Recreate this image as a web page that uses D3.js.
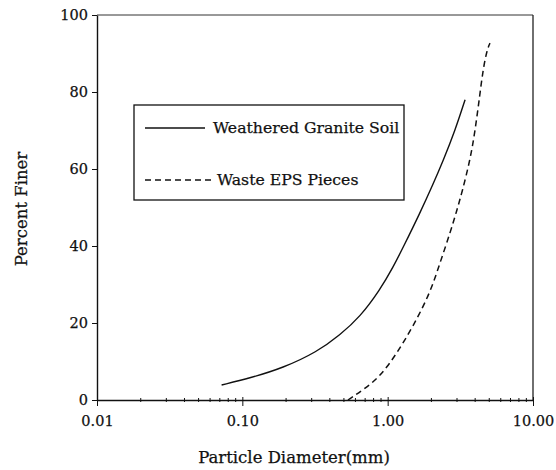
<!DOCTYPE html>
<html><head><meta charset="utf-8">
<script src="https://d3js.org/d3.v7.min.js"></script>
<style>body{margin:0;background:#fff}svg{display:block}text{font-family:"DejaVu Serif",serif;fill:#111;stroke:#111;stroke-width:0.25px}</style>
</head><body><svg id="c" width="556" height="470"></svg>
<script>
const seriesNames = ["Weathered Granite Soil", "Waste EPS Pieces"];
const graniteDiam = [0.072, 0.113, 0.19, 0.327, 0.47, 0.646, 0.885, 1.09, 1.28, 1.67, 2.05, 2.40, 2.91, 3.41];
const granitePct  = [3.9, 5.7, 8.3, 12.5, 16.9, 21.6, 28.6, 34.5, 39.7, 48.6, 56, 62, 70, 78];
const epsDiam = [0.533, 0.676, 0.885, 1.16, 1.49, 1.96, 2.29, 2.69, 3.0, 3.25, 3.69, 4.0, 4.32, 4.53, 4.82, 5.06];
const epsPct  = [0, 2.6, 6, 12.2, 19, 27.8, 35.6, 43.4, 49.4, 54, 62.3, 70, 79.7, 85.7, 90.9, 92.7];
const xTicks = [0.01, 0.1, 1, 10];
const xTickLabels = ["0.01", "0.10", "1.00", "10.00"];
const yTicks = [0, 20, 40, 60, 80, 100];

const svg = d3.select("#c");
const L = 97, R = 533, T = 15, B = 400;
const x = d3.scaleLog().domain([0.01, 10]).range([L, R]);
const y = d3.scaleLinear().domain([0, 100]).range([B, T]);

// frame
svg.append("line").attr("x1", L).attr("x2", R).attr("y1", T).attr("y2", T).attr("stroke", "#333").attr("stroke-width", 1);
svg.append("line").attr("x1", R).attr("x2", R).attr("y1", T).attr("y2", B).attr("stroke", "#222").attr("stroke-width", 1.3);

// y axis
const ya = svg.append("g").attr("transform", `translate(${L},0)`)
  .call(d3.axisLeft(y).tickValues(yTicks).tickSize(5).tickPadding(4).tickSizeOuter(0));
ya.select(".domain").attr("stroke", "#111").attr("stroke-width", 1.4);
ya.selectAll(".tick line").attr("stroke", "#111");
ya.selectAll("text").style("font-size", "14.5px").attr("font-family", "DejaVu Serif");

// x axis
const minor = [];
for (let d = 0.01; d < 10; d *= 10) for (let k = 2; k <= 9; k++) minor.push(d * k);
const xa = svg.append("g").attr("transform", `translate(0,${B})`)
  .call(d3.axisBottom(x).tickValues(xTicks).tickFormat((d, i) => xTickLabels[i]).tickSize(6).tickPadding(10).tickSizeOuter(0));
xa.select(".domain").attr("stroke", "#111").attr("stroke-width", 1.4);
xa.selectAll(".tick line").attr("stroke", "#111").attr("y1", -3);
xa.selectAll("text").style("font-size", "14.5px").attr("font-family", "DejaVu Serif");
svg.append("g").selectAll("line").data(minor).join("line")
  .attr("x1", d => x(d)).attr("x2", d => x(d)).attr("y1", B - 2).attr("y2", B + 2)
  .attr("stroke", "#111").attr("stroke-width", 1);

// curves
const line = d3.line().x(d => x(d[0])).y(d => y(d[1])).curve(d3.curveBasis);
svg.append("path").datum(d3.zip(graniteDiam, granitePct)).attr("d", line)
  .attr("fill", "none").attr("stroke", "#111").attr("stroke-width", 1.4);
svg.append("path").datum(d3.zip(epsDiam, epsPct)).attr("d", line)
  .attr("fill", "none").attr("stroke", "#111").attr("stroke-width", 1.5).attr("stroke-dasharray", "6,4");

// legend
const lg = svg.append("g");
lg.append("rect").attr("x", 134).attr("y", 105).attr("width", 270).attr("height", 95)
  .attr("fill", "none").attr("stroke", "#111").attr("stroke-width", 1.3);
lg.append("line").attr("x1", 145).attr("x2", 205).attr("y1", 128).attr("y2", 128).attr("stroke", "#111").attr("stroke-width", 1.4);
lg.append("line").attr("x1", 145).attr("x2", 211).attr("y1", 180).attr("y2", 180).attr("stroke", "#111").attr("stroke-width", 1.4).attr("stroke-dasharray", "6,4");
lg.append("text").attr("x", 213).attr("y", 133).style("font-size", "15.7px").text(seriesNames[0]);
lg.append("text").attr("x", 217).attr("y", 185).style("font-size", "15.7px").text(seriesNames[1]);

// titles
svg.append("text").attr("x", 294).attr("y", 463).attr("text-anchor", "middle").style("font-size", "16.5px").text("Particle Diameter(mm)");
svg.append("text").attr("transform", "translate(27,209) rotate(-90)").attr("text-anchor", "middle").style("font-size", "16.5px").text("Percent Finer");
</script></body></html>
